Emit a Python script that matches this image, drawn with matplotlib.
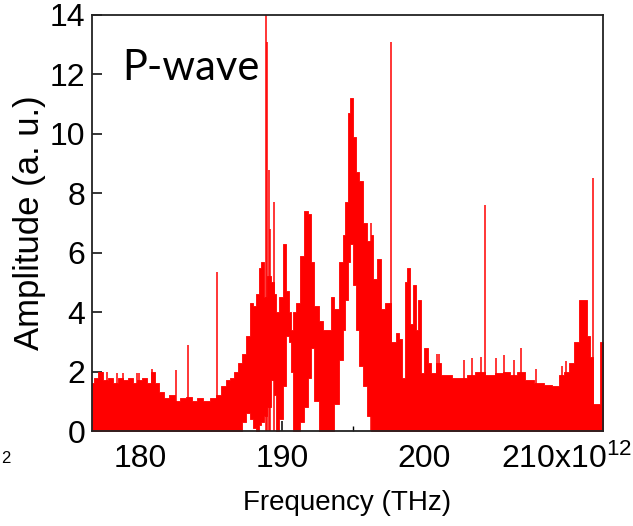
import numpy as np
import matplotlib
matplotlib.use("Agg")
import matplotlib.pyplot as plt
from matplotlib.ticker import MultipleLocator, FixedLocator

plt.rcParams['font.family'] = ['Liberation Sans', 'DejaVu Sans']
plt.rcParams['mathtext.default'] = 'regular'

# spectrum envelope: frequency (THz), upper and lower edge (a. u.)
freq = [176.62, 176.91, 177.19, 177.54, 177.89, 178.25, 178.60, 178.95, 179.30, 179.65,
        180.00, 180.35, 180.70, 180.91, 181.19, 181.54, 181.89, 182.25, 182.67, 183.02,
        183.51, 183.86, 184.21, 184.70, 185.12, 185.54, 185.89, 186.18, 186.46, 186.74,
        187.02, 187.30, 187.58, 187.86, 188.07, 188.28, 188.42, 188.63, 188.77, 189.05,
        189.33, 189.54, 189.68, 189.89, 190.18, 190.39, 190.53, 190.67, 190.88, 191.09,
        191.44, 191.72, 191.93, 192.14, 192.42, 192.77, 192.98, 193.33, 193.54, 193.82,
        194.18, 194.39, 194.53, 194.74, 194.88, 195.09, 195.30, 195.58, 195.79, 196.14,
        196.35, 196.49, 196.84, 197.05, 197.40, 197.89, 198.11, 198.39, 198.53, 198.74,
        198.88, 199.09, 199.30, 199.51, 199.65, 199.86, 200.14, 200.35, 200.70, 201.05,
        201.40, 201.75, 202.25, 202.81, 203.30, 203.86, 204.70, 205.26, 205.82, 206.32,
        206.81, 207.37, 208.07, 208.77, 209.26, 209.68, 210.04, 210.39, 210.74, 211.02,
        211.37, 211.58, 211.79, 212.07, 212.35, 212.42, 212.60]
upper = [1.6, 1.8, 2.0, 1.7, 1.8, 1.6, 1.8, 1.7, 1.8, 1.6,
         1.7, 1.8, 1.6, 2.0, 1.6, 1.3, 1.1, 1.2, 1.0, 1.1,
         1.15, 1.0, 1.1, 1.0, 1.1, 1.2, 1.5, 1.7, 1.8, 2.0,
         2.3, 2.6, 3.2, 4.3, 4.2, 4.6, 5.5, 5.7, 4.5, 5.2,
         5.0, 4.6, 4.0, 4.5, 6.3, 4.7, 4.0, 3.4, 4.0, 4.3,
         5.9, 7.4, 7.3, 5.7, 4.2, 3.7, 3.4, 3.4, 4.5, 4.1,
         5.7, 6.6, 7.7, 10.7, 11.2, 9.9, 8.7, 8.4, 7.0, 6.4,
         6.6, 5.1, 5.8, 4.1, 4.3, 3.0, 3.3, 3.1, 1.8, 5.0,
         5.5, 3.6, 4.9, 3.4, 4.4, 1.95, 2.8, 2.3, 1.95, 2.3,
         1.9, 1.9, 1.8, 1.8, 1.9, 2.0, 1.9, 1.95, 2.0, 1.9,
         2.0, 1.7, 1.6, 1.55, 1.5, 1.9, 2.0, 2.3, 3.0, 4.4,
         4.4, 3.2, 2.5, 0.9, 0.9, 3.0, 3.0]
lower = [0, 0, 0, 0, 0, 0, 0, 0, 0, 0,
         0, 0, 0, 0, 0, 0, 0, 0, 0, 0,
         0, 0, 0, 0, 0, 0, 0, 0, 0, 0,
         0, 0.3, 0.6, 0.4, 0.1, 0, 0.2, 0.3, 0.5, 0.8,
         1.7, 1.2, 0, 0.4, 1.5, 3.2, 3.0, 2.0, 0, 0,
         0.3, 0.8, 1.8, 2.8, 1.0, 0, 0, 0, 0, 0.9,
         2.4, 3.4, 4.4, 5.7, 6.3, 4.9, 3.4, 2.2, 1.5, 0.5,
         0, 0, 0, 0, 0, 0, 0, 0, 0, 0,
         0, 0, 0, 0, 0, 0, 0, 0, 0, 0,
         0, 0, 0, 0, 0, 0, 0, 0, 0, 0,
         0, 0, 0, 0, 0, 0, 0, 0, 0, 0,
         0, 0, 0, 0, 0, 0, 0]

# narrow spikes sticking out of the envelope
spike_freq = [177.30, 177.68, 178.40, 178.81, 179.79, 179.90, 180.84, 182.53, 183.37, 185.40,
              188.88, 188.95, 189.05, 189.12, 189.47, 196.26, 197.68, 200.91, 201.05, 202.81,
              203.37, 204.00, 204.28, 205.05, 205.60, 206.32, 206.81, 207.86, 209.68, 209.96,
              211.93]
spike_amp = [2.0, 2.0, 1.95, 1.95, 1.95, 1.95, 2.1, 2.05, 2.9, 5.35,
             14.0, 13.1, 8.8, 6.8, 7.7, 7.0, 13.1, 2.6, 2.6, 2.4,
             2.45, 2.5, 7.6, 2.45, 2.55, 2.4, 2.8, 2.1, 2.2, 2.35,
             8.5]

xticks = [180, 190, 200, 210]
xtick_labels = ['180', '190', '200', '210x10$^{12}$']
yticks = [0, 2, 4, 6, 8, 10, 12, 14]

fig = plt.figure(figsize=(6.33, 5.26), dpi=100)
ax = fig.add_axes([0.1453, 0.1806, 0.8073, 0.7909])

ax.fill_between(freq, lower, upper, step='mid', color='#ff0000', lw=0.6, zorder=2)
ax.vlines(spike_freq, 0, spike_amp, color='#ff0000', lw=1.1, zorder=2)

ax.set_xlim(176.62, 212.6)
ax.set_ylim(0, 14)

ax.xaxis.set_major_locator(FixedLocator(xticks))
ax.set_xticklabels(xtick_labels)
ax.xaxis.set_minor_locator(MultipleLocator(5))
ax.set_yticks(yticks)

ax.tick_params(axis='both', which='major', direction='in', length=7.5, width=1.1,
               labelsize=23, colors='black', top=False, right=False)
ax.tick_params(axis='x', which='major', pad=9)
ax.tick_params(axis='y', which='major', pad=5)
ax.tick_params(axis='x', which='minor', direction='in', length=3.5, width=1.0, top=False)

for s in ax.spines.values():
    s.set_linewidth(1.3)
    s.set_color('#222222')

ax.set_xlabel('Frequency (THz)', fontsize=20)
ax.set_ylabel('Amplitude (a. u.)', fontsize=25)
ax.xaxis.set_label_coords(0.5, -0.142)
ax.yaxis.set_label_coords(-0.09, 0.5)

ax.text(0.0587, 0.8438, 'P-wave', transform=ax.transAxes, fontsize=30,
        family=['Lato', 'DejaVu Sans'], va='baseline', ha='left')

# fragment of the neighbouring panel's exponent
fig.text(0.002, 1 - 463 / 526, '2', fontsize=12, va='baseline', ha='left')

fig.savefig('out.png', dpi=100)
